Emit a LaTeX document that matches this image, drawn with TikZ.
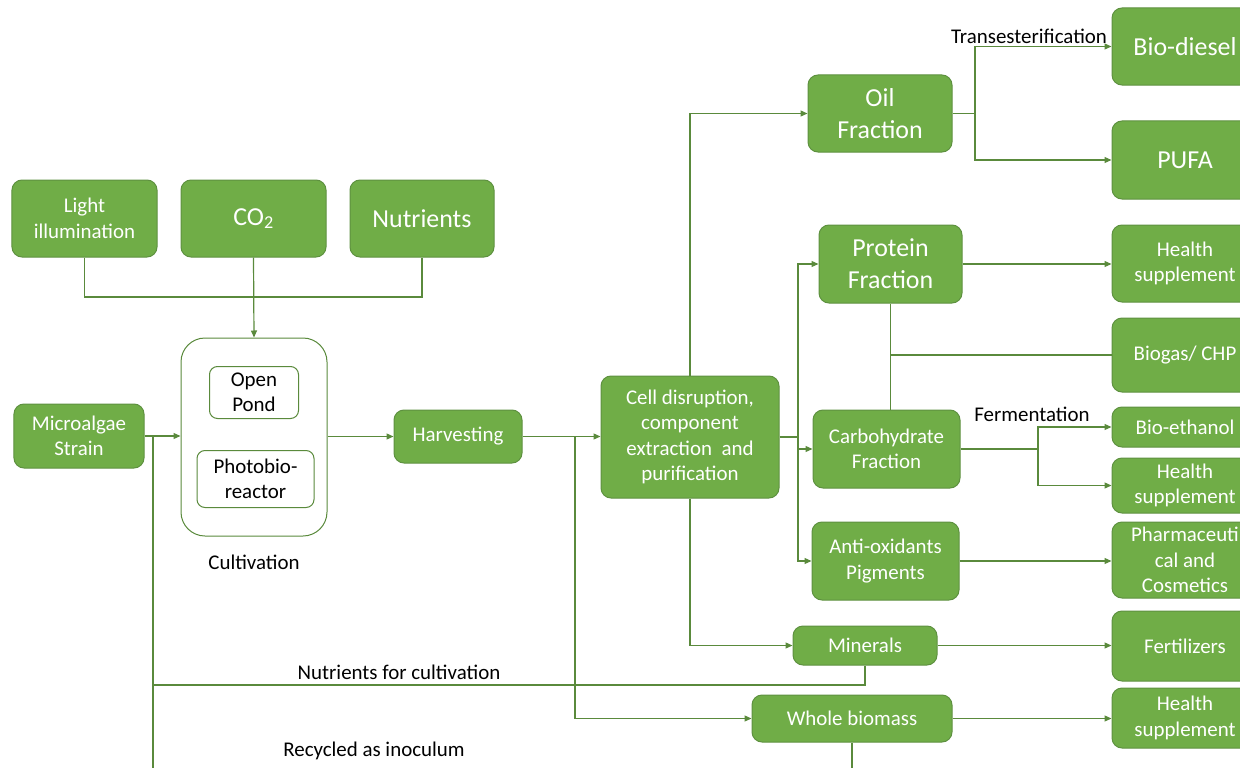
\documentclass[tikz,border=0pt]{standalone}
\usepackage{fontspec}
\setmainfont{Carlito}
\usetikzlibrary{arrows.meta, positioning, calc}
\definecolor{boxgreen}{HTML}{70AD47}
\definecolor{boxedge}{HTML}{5E9140}
\definecolor{linegreen}{HTML}{5A8A3C}

\begin{document}
\begin{tikzpicture}[
  x=1bp, y=-1bp,
  every node/.style={font=\fontsize{21}{25.5}\selectfont},
  wh/.style 2 args={minimum width=#1bp, minimum height=#2bp},
  gbox/.style={draw=boxedge, line width=1bp, fill=boxgreen, text=white,
               rounded corners=10bp, align=center, inner sep=1bp},
  big/.style={font=\fontsize{26}{32}\selectfont},
  wbox/.style={draw=linegreen, line width=1bp, fill=white,
               rounded corners=8bp, align=center, inner sep=1bp},
  link/.style={draw=linegreen, line width=1.2bp},
  arr/.style={link, -{Triangle[length=7bp, width=6bp]}}
]
  \useasboundingbox (0,0) rectangle (1240,768);
  \clip (0,0) rectangle (1240,768);

  % --- inputs ---
  \node[gbox, wh={145}{77}] (light) at (84.5,218.5) {Light\\illumination};
  \node[gbox, big, wh={145}{77}] (co2) at (253.5,218.5) {CO\textsubscript{2}};
  \node[gbox, big, wh={144}{77}] (nutr) at (422,218.5) {Nutrients};

  % --- cultivation ---
  \node[wbox, rounded corners=24bp, wh={146}{198}] (cult) at (254,437) {};
  \node[wbox, wh={89}{52}] (pond) at (254,392.5) {Open\\Pond};
  \node[wbox, wh={117}{57}] (pbr) at (255.5,479) {Photobio-\\reactor};
  \node (cultlbl) at (254,562) {Cultivation};
  \node[gbox, wh={130}{64}] (strain) at (79,436) {Microalgae\\Strain};
  \node[gbox, wh={128}{53}] (harv) at (458,436.5) {Harvesting};

  % --- processing ---
  \node[gbox, wh={178}{122}] (cell) at (690,437)
    {Cell disruption,\\component\\extraction\ \ and\\purification};
  \node[gbox, big, wh={144}{77}] (oil) at (880,113.5) {Oil\\Fraction};
  \node[gbox, big, wh={143}{78}] (prot) at (890.5,264) {Protein\\Fraction};
  \node[gbox, wh={147}{78}] (carb) at (886.5,449) {Carbohydrate\\Fraction};
  \node[gbox, wh={147}{78}] (anti) at (885.5,561) {Anti-oxidants\\Pigments};
  \node[gbox, wh={144}{39}] (minr) at (865,645.5) {Minerals};
  \node[gbox, wh={200}{47}] (whole) at (852,718.5) {Whole biomass};

  % --- products ---
  \node[gbox, big, wh={146}{77}] (bdsl) at (1185,46.5) {Bio-diesel};
  \node[gbox, big, wh={146}{78}] (pufa) at (1185,160) {PUFA};
  \node[gbox, wh={146}{77}] (hs1) at (1185,263.5) {Health\\supplement};
  \node[gbox, wh={146}{74}] (biogas) at (1185,355) {Biogas/ CHP};
  \node[gbox, wh={146}{40}] (beth) at (1185,427) {Bio-ethanol};
  \node[gbox, wh={146}{55}] (hs2) at (1185,485.5) {Health\\supplement};
  \node[gbox, wh={146}{76}] (pharm) at (1185,560) {Pharmaceuti\\cal and\\Cosmetics};
  \node[gbox, wh={146}{70}] (fert) at (1185,646) {Fertilizers};
  \node[gbox, wh={146}{60}] (hs3) at (1185,718) {Health\\supplement};

  % --- labels ---
  \node (trans) at (1029,36) {Transesterification};
  \node (ferm) at (1032,414) {Fermentation};
  \node (nfclbl) at (399,672) {Nutrients for cultivation};
  \node (reclbl) at (374,751) {Recycled as inoculum};

  % --- helper points ---
  \coordinate (mix) at (253.5,297);
  \coordinate (rec) at (153,436);
  \coordinate (nfc) at (153,685);
  \coordinate (botL) at (153,800);
  \coordinate (botR) at (852,800);
  \coordinate (split) at (575,436.5);
  \coordinate (ofork) at (975,113.5);
  \coordinate (cfork) at (798,437);
  \coordinate (efork) at (1038,449);

  % --- connectors ---
  \draw[link] (light.south) |- (mix) -| (nutr.south);
  \draw[arr] (co2.south) -- (cult.north);
  \draw[arr] (strain.east) -- (strain.east -| cult.west);
  \draw[arr] (cult.east |- harv.west) -- (harv.west);
  \draw[arr] (harv.east) -- (harv.east -| cell.west);
  \draw[arr] (split) |- (whole.west);
  \draw[arr] (cell.north) |- (oil.west);
  \draw[link] (oil.east) -- (ofork);
  \draw[arr] (ofork) |- (bdsl.west);
  \draw[arr] (ofork) |- (pufa.west);
  \draw[link] (cell.east) -- (cfork);
  \draw[arr] (cfork) |- (prot.west);
  \draw[arr] (cfork) |- (carb.west);
  \draw[arr] (cfork) |- (anti.west);
  \draw[arr] (prot.east) -- (prot.east -| hs1.west);
  \draw[link] (prot.south) -- (prot.south |- carb.north);
  \draw[link] (prot.south |- biogas.west) -- (biogas.west);
  \draw[link] (carb.east) -- (efork);
  \draw[arr] (efork) |- (beth.west);
  \draw[arr] (efork) |- (hs2.west);
  \draw[arr] (anti.east) -- (anti.east -| pharm.west);
  \draw[arr] (cell.south) |- (minr.west);
  \draw[arr] (minr.east) -- (minr.east -| fert.west);
  \draw[link] (minr.south) |- (nfc);
  \draw[arr] (whole.east) -- (whole.east -| hs3.west);
  \draw[link] (whole.south) -- (botR) -- (botL) -- (rec);
\end{tikzpicture}
\end{document}
